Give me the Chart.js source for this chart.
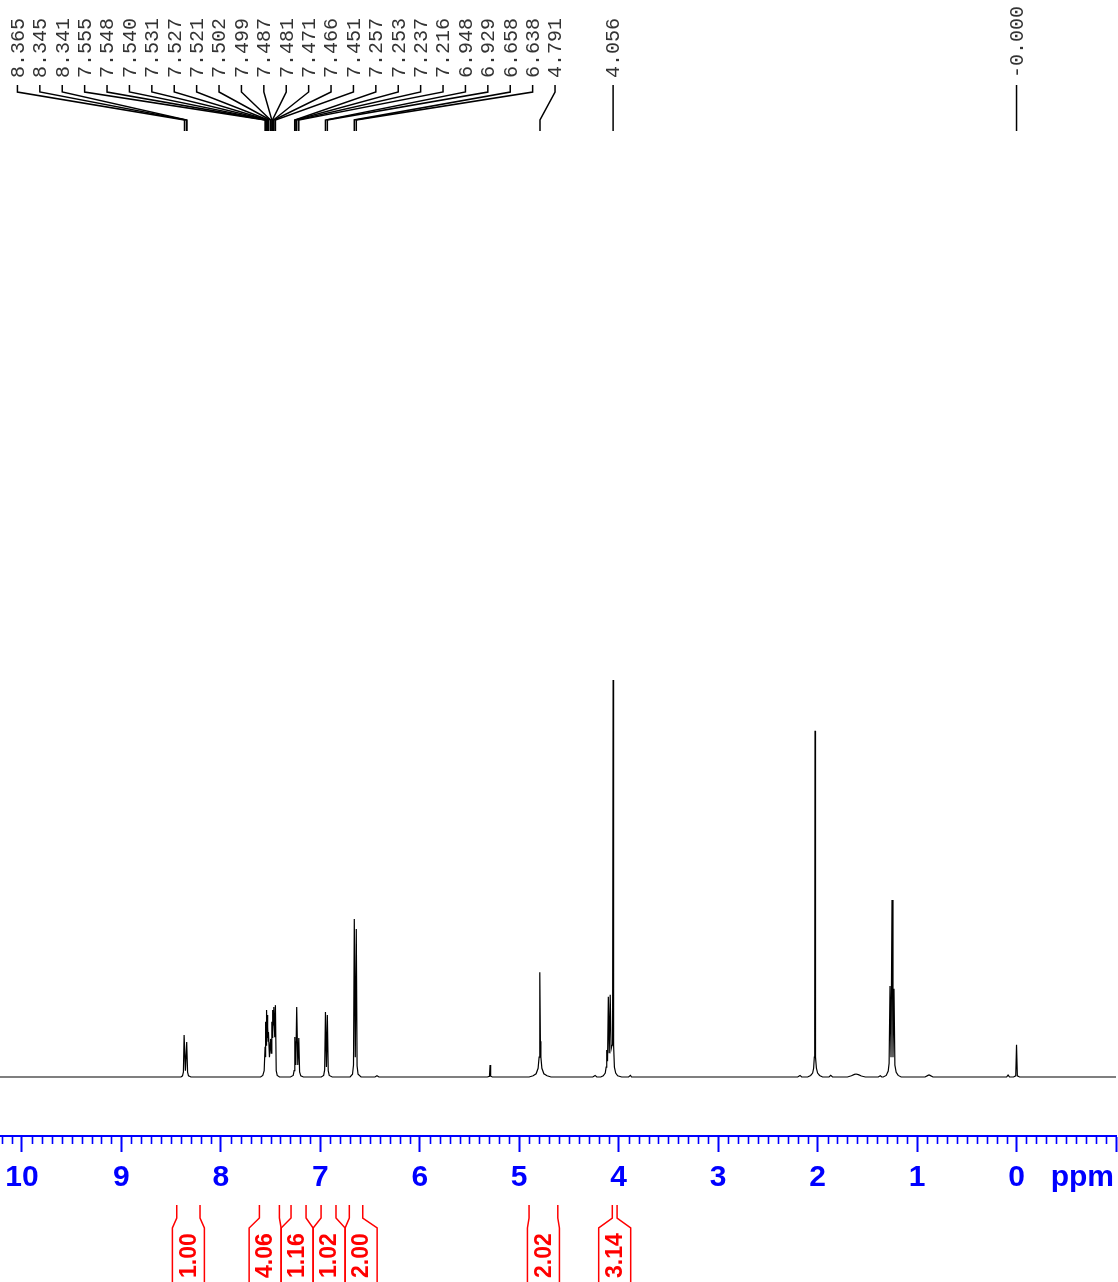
<!DOCTYPE html>
<html>
<head>
<meta charset="utf-8">
<title>1H NMR spectrum</title>
<script src="https://cdn.jsdelivr.net/npm/chart.js@4.4.0/dist/chart.umd.min.js"></script>
<style>
  html, body { margin: 0; padding: 0; background: #fff; }
  canvas { display: block; }
</style>
</head>
<body>
<canvas id="nmrChart" width="1118" height="1282"></canvas>
<script>
// spectrum trace: [ppm, intensity], 4.056 singlet = 100
const spectrum = [
  [10.22, 0],
  [8.40, 0], [8.385, 0.3], [8.376, 1.3], [8.369, 10.6], [8.356, 1.6], [8.343, 8.8], [8.334, 1.2], [8.325, 0.3], [8.30, 0],
  [7.60, 0], [7.578, 0.4], [7.564, 1.6], [7.555, 7.6], [7.551, 5.0], [7.548, 13.9], [7.544, 8.0], [7.540, 16.9],
  [7.535, 10.0], [7.531, 15.6], [7.529, 11.0], [7.527, 12.6], [7.524, 9.0], [7.521, 11.3], [7.511, 5.0],
  [7.502, 8.8], [7.5005, 7.0], [7.499, 9.6], [7.493, 6.0], [7.487, 13.9], [7.484, 10.0], [7.481, 16.9],
  [7.476, 11.0], [7.471, 16.4], [7.468, 13.0], [7.466, 17.6], [7.458, 10.0], [7.451, 18.1], [7.443, 1.6],
  [7.433, 0.4], [7.41, 0],
  [7.30, 0], [7.272, 0.4], [7.263, 1.6], [7.257, 10.1], [7.255, 8.0], [7.253, 9.0], [7.246, 3.0], [7.237, 17.6],
  [7.226, 3.0], [7.216, 9.8], [7.208, 1.3], [7.196, 0.3], [7.17, 0],
  [6.99, 0], [6.966, 0.4], [6.956, 1.8], [6.948, 16.4], [6.938, 2.5], [6.929, 15.6], [6.920, 1.6], [6.910, 0.4], [6.88, 0],
  [6.70, 0], [6.676, 0.7], [6.666, 3.0], [6.658, 39.8], [6.648, 5.0], [6.638, 37.3], [6.630, 2.8], [6.620, 0.7], [6.59, 0],
  [6.45, 0], [6.43, 0.3], [6.41, 0],
  [5.32, 0], [5.299, 0.2], [5.293, 3.0], [5.287, 0.2], [5.27, 0],
  [4.90, 0], [4.86, 0.3], [4.83, 0.8], [4.81, 2.2], [4.800, 5.0], [4.795, 9.0], [4.791, 26.4], [4.787, 9.0],
  [4.782, 5.0], [4.772, 2.2], [4.752, 0.8], [4.72, 0.3], [4.68, 0],
  [4.26, 0], [4.237, 0.4], [4.22, 0],
  [4.18, 0], [4.155, 0.3], [4.135, 1.0], [4.126, 2.5], [4.120, 6.8], [4.112, 4.0], [4.104, 20.2], [4.095, 6.0],
  [4.085, 20.7], [4.076, 7.0], [4.067, 8.0], [4.061, 12.0], [4.056, 100], [4.051, 8.0], [4.043, 2.5],
  [4.030, 1.0], [4.010, 0.3], [3.97, 0],
  [3.90, 0], [3.882, 0.4], [3.87, 0],
  [2.20, 0], [2.177, 0.4], [2.16, 0],
  [2.10, 0], [2.07, 0.4], [2.05, 1.0], [2.04, 2.2], [2.033, 5.0], [2.029, 12.0], [2.026, 87.2], [2.023, 12.0],
  [2.019, 5.0], [2.012, 2.2], [2.00, 1.0], [1.98, 0.4], [1.95, 0],
  [1.885, 0], [1.868, 0.4], [1.85, 0],
  [1.70, 0], [1.66, 0.3], [1.63, 0.65], [1.613, 0.75], [1.59, 0.6], [1.56, 0.25], [1.52, 0],
  [1.39, 0], [1.37, 0.3], [1.355, 0],
  [1.34, 0], [1.31, 0.4], [1.29, 1.5], [1.281, 3.5], [1.272, 22.9], [1.262, 5.0], [1.252, 44.6], [1.242, 5.0],
  [1.232, 22.2], [1.223, 3.0], [1.21, 1.2], [1.19, 0.4], [1.16, 0],
  [0.92, 0], [0.89, 0.4], [0.88, 0.5], [0.87, 0.4], [0.84, 0],
  [0.10, 0], [0.085, 0.5], [0.07, 0],
  [0.03, 0], [0.008, 0.3], [0.000, 8.1], [-0.008, 0.3], [-0.03, 0],
  [-1.0, 0]
];

// picked peak labels along the top
const peakLabels = [
  '8.365', '8.345', '8.341', '7.555', '7.548', '7.540', '7.531', '7.527', '7.521', '7.502', '7.499',
  '7.487', '7.481', '7.471', '7.466', '7.451', '7.257', '7.253', '7.237', '7.216', '6.948', '6.929',
  '6.658', '6.638', '4.791', '4.056', '-0.000'
];

// integral regions (ppm) and their values
const integralFrom = [8.443, 7.612, 7.294, 6.992, 6.708, 4.901, 4.064];
const integralTo = [8.209, 7.411, 7.143, 6.842, 6.573, 4.612, 4.016];
const integralValues = ['1.00', '4.06', '1.16', '1.02', '2.00', '2.02', '3.14'];

// x axis range and tick steps (ppm)
const ppmLeft = 10.22;
const ppmRight = -1.0;
const majorStep = 1;
const minorStep = 0.1;

const BLUE = '#0000ff';
const RED = '#ff0000';

// spread labels so they keep a minimum gap, each group centred on its targets
function spread(targets, gap) {
  let groups = targets.map((t, i) => ({ idx: [i], sum: t }));
  const start = g => g.sum / g.idx.length - (g.idx.length - 1) * gap / 2;
  const end = g => start(g) + (g.idx.length - 1) * gap;
  let merged = true;
  while (merged) {
    merged = false;
    for (let i = 0; i < groups.length - 1; i++) {
      if (start(groups[i + 1]) - end(groups[i]) < gap) {
        groups[i].idx = groups[i].idx.concat(groups[i + 1].idx);
        groups[i].sum += groups[i + 1].sum;
        groups.splice(i + 1, 1);
        merged = true;
        break;
      }
    }
  }
  const pos = [];
  groups.forEach(g => {
    const s = start(g);
    g.idx.forEach((k, j) => { pos[k] = s + j * gap; });
  });
  return pos;
}

const decorations = {
  id: 'decorations',
  afterDraw(chart) {
    const ctx = chart.ctx;
    const xs = chart.scales.x;
    const axisY = chart.chartArea.bottom;
    ctx.save();

    // minor ticks every 0.1 ppm
    ctx.strokeStyle = BLUE;
    ctx.lineWidth = 1.6;
    ctx.beginPath();
    const kMin = Math.ceil(ppmRight / minorStep - 1e-6);
    const kMax = Math.floor(ppmLeft / minorStep + 1e-6);
    for (let k = kMin; k <= kMax; k++) {
      if (k % 10 === 0) continue;
      const px = Math.round(xs.getPixelForValue(k * minorStep)) + 0.5;
      ctx.moveTo(px, axisY);
      ctx.lineTo(px, axisY + 8);
    }
    ctx.stroke();

    // axis unit
    ctx.fillStyle = BLUE;
    ctx.font = 'bold 30px "Liberation Sans", Arial, sans-serif';
    ctx.textAlign = 'right';
    ctx.textBaseline = 'middle';
    ctx.fillText('ppm', 1114, axisY + 42);

    // peak labels with connectors
    const peakX = peakLabels.map(v => xs.getPixelForValue(parseFloat(v)));
    const labelX = spread(peakX, 22.4);
    ctx.strokeStyle = '#000';
    ctx.lineWidth = 1.5;
    ctx.fillStyle = '#333';
    ctx.font = '20px "Liberation Mono", "DejaVu Sans Mono", monospace';
    ctx.textAlign = 'left';
    ctx.textBaseline = 'middle';
    peakLabels.forEach((txt, i) => {
      const lx = labelX[i];
      const px = peakX[i];
      ctx.save();
      ctx.translate(lx, 78);
      ctx.rotate(-Math.PI / 2);
      ctx.fillText(txt, 0, 1);
      ctx.restore();
      ctx.beginPath();
      ctx.moveTo(lx, 85);
      ctx.lineTo(lx, 92);
      ctx.lineTo(px, 120);
      ctx.lineTo(px, 131);
      ctx.stroke();
    });

    // integrals
    const fromX = integralFrom.map(v => xs.getPixelForValue(v));
    const toX = integralTo.map(v => xs.getPixelForValue(v));
    const centers = fromX.map((f, i) => (f + toX[i]) / 2);
    const boxX = spread(centers, 32);
    ctx.strokeStyle = RED;
    ctx.fillStyle = RED;
    ctx.lineWidth = 1.5;
    ctx.font = 'bold 23px "Liberation Sans", Arial, sans-serif';
    integralValues.forEach((txt, i) => {
      const half = Math.max(16, (toX[i] - fromX[i]) / 2);
      const bl = boxX[i] - half;
      const br = boxX[i] + half;
      ctx.beginPath();
      ctx.moveTo(fromX[i], 1205);
      ctx.lineTo(fromX[i], 1218);
      ctx.lineTo(bl, 1228);
      ctx.lineTo(bl, 1290);
      ctx.moveTo(toX[i], 1205);
      ctx.lineTo(toX[i], 1218);
      ctx.lineTo(br, 1228);
      ctx.lineTo(br, 1290);
      ctx.stroke();
      ctx.save();
      ctx.translate(boxX[i], 1278);
      ctx.rotate(-Math.PI / 2);
      ctx.textAlign = 'left';
      ctx.textBaseline = 'middle';
      ctx.fillText(txt, 0, 1);
      ctx.restore();
    });

    ctx.restore();
  }
};

const ctx = document.getElementById('nmrChart').getContext('2d');
const chart = new Chart(ctx, {
  type: 'line',
  data: {
    datasets: [{
      data: spectrum.map(p => ({ x: p[0], y: p[1] })),
      borderColor: '#000',
      borderWidth: 1.2,
      pointRadius: 0,
      tension: 0,
      fill: false
    }]
  },
  options: {
    responsive: false,
    devicePixelRatio: 1,
    animation: false,
    layout: { padding: { top: 140, left: 0, right: 2, bottom: 0 } },
    plugins: { legend: { display: false }, tooltip: { enabled: false } },
    scales: {
      x: {
        type: 'linear',
        reverse: true,
        min: ppmRight,
        max: ppmLeft,
        position: 'bottom',
        afterFit: scale => {
          scale.height = 146;
          scale.paddingLeft = 0;
          scale.paddingRight = 0;
        },
        border: { display: true, color: BLUE, width: 2 },
        grid: { drawOnChartArea: false, drawTicks: true, tickLength: 16, tickWidth: 2, tickColor: BLUE },
        ticks: {
          stepSize: majorStep,
          includeBounds: false,
          autoSkip: false,
          maxRotation: 0,
          padding: 8,
          color: BLUE,
          font: { family: '"Liberation Sans", Arial, sans-serif', size: 30, weight: 'bold', lineHeight: 1.2 },
          callback: v => (v === -1 ? '' : String(v))
        }
      },
      y: {
        display: false,
        min: -14.86,
        max: 236
      }
    }
  },
  plugins: [decorations]
});
</script>
</body>
</html>
